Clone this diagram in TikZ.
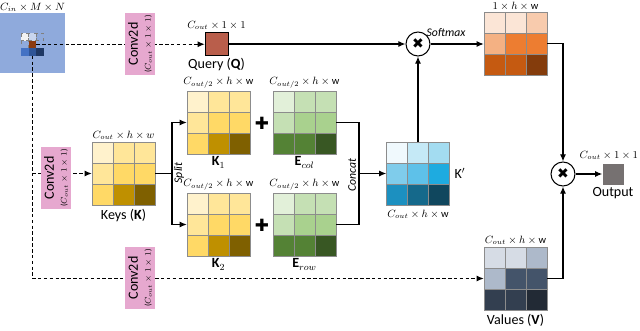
\documentclass[tikz,border=0pt]{standalone}
\usepackage{fontspec}
\setmainfont{Carlito}
\newfontfamily\dejavu{DejaVu Sans}
\usetikzlibrary{arrows.meta,positioning,calc}

\definecolor{convpink}{HTML}{E6A8CF}
\definecolor{inblue}{HTML}{8FAADC}
\definecolor{qbrown}{HTML}{B95E4B}
\definecolor{outgray}{HTML}{767171}
\definecolor{pixbrown}{HTML}{8B3A0F}
\definecolor{patchA}{HTML}{F2F2F2}
\definecolor{patchB}{HTML}{C9D6EE}
\definecolor{patchC}{HTML}{4472C4}
\definecolor{patchD}{HTML}{2F5597}
\definecolor{patchE}{HTML}{1F3864}

\tikzset{
  link/.style={line width=0.9pt, -{Latex[length=6pt,width=5pt]}},
  plain/.style={line width=0.9pt},
  dlink/.style={line width=0.9pt, dash pattern=on 3pt off 2pt, -{Latex[length=6pt,width=5pt]}},
  convbox/.style={fill=convpink, rotate=90, minimum width=1.86cm, minimum height=0.88cm,
    inner sep=0pt, align=center, font=\large},
  mulnode/.style={circle, draw, line width=0.9pt, fill=white, minimum size=0.72cm,
    inner sep=0pt, font=\dejavu\large},
  mapbox/.style={minimum size=1.89cm, inner sep=0pt},
  dim/.style={font=\small, inner sep=1pt},
  mapcap/.style={font=\large, inner sep=1pt},
  patchcell/.style={draw=black!50, dashed, line width=0.3pt},
}

% feature map: name, left, top, nine cell colours
\newcommand{\featmap}[4]{%
  \foreach \c [count=\i from 0] in {#4} {%
    \pgfmathtruncatemacro{\fr}{\i/3}%
    \pgfmathtruncatemacro{\fc}{\i-3*\fr}%
    \definecolor{cellc}{HTML}{\c}%
    \filldraw[fill=cellc, draw=black!45, line width=0.3pt]
      ({#2+21*\fc},{#3+21*\fr}) rectangle ++(21,21);
  }
  \node[mapbox] (#1) at ({#2+31.5},{#3+31.5}) {};
}

\begin{document}
\begin{tikzpicture}[x=0.03cm, y=-0.03cm]
    \useasboundingbox (0,0) rectangle (640,330);

    % Input
    \node[fill=inblue, minimum width=1.95cm, minimum height=1.8cm, inner sep=0pt] (input) at (32.5,43) {};
    \node[dim, above=0pt of input] (inlbl) {$C_{in}\times M\times N$};
    \filldraw[patchcell, fill=patchA] (21,33) rectangle ++(7.5,7.5);
    \filldraw[patchcell, fill=patchB] (28.5,33) rectangle ++(7.5,7.5);
    \draw[patchcell] (36,33) rectangle ++(7.5,7.5);
    \draw[patchcell] (21,40.5) rectangle ++(7.5,7.5);
    \fill[pixbrown] (28.5,40.5) rectangle ++(7.5,7.5);
    \fill[patchC] (21,48) rectangle ++(7.5,7.5);
    \fill[patchD] (28.5,48) rectangle ++(7.5,7.5);
    \fill[patchE] (36,48) rectangle ++(7.5,7.5);
    \node[minimum size=0.675cm, inner sep=0pt] (patch) at (32.25,44.25) {};
    \node[minimum size=0.225cm, inner sep=0pt] (pix) at (32.25,44.25) {};

    % Query
    \node[fill=qbrown, draw, minimum size=0.69cm, inner sep=0pt] (query) at (216.5,44) {};
    \node[dim, above=1pt of query] (qdim) {$C_{out}\times 1\times 1$};
    \node[mapcap, below=1pt of query] (qcap) {Query ($\mathbf{Q}$)};

    % Attention
    \node[mulnode] (mul1) at (418,44) {✖};
    \node[font=\itshape, inner sep=1pt] (soft) at (446,33) {Softmax};
    \featmap{att}{484}{12}{FBE5D6,FBE5D6,F8CBAD,F4B183,ED7D31,ED7D31,C55A11,C55A11,843C0C}
    \node[dim, inner sep=0pt, above=0.5pt of att] (attdim) {$1\times h\times\mathrm{w}$};

    % Keys
    \featmap{keys}{92}{142}{FFF2CC,FFE699,FFE699,FFE699,FFD966,FFD966,FFD966,BF9000,7F6000}
    \node[dim, above=1pt of keys] (keysdim) {$C_{out}\times h\times w$};
    \node[mapcap, below=2pt of keys] (keyscap) {Keys ($\mathbf{K}$)};

    % Split halves
    \featmap{k1}{187}{91}{FFF2CC,FFE699,FFE699,FFE699,FFD966,FFD966,FFD966,BF9000,7F6000}
    \featmap{ecol}{273}{91}{E2F0D9,C5E0B4,C5E0B4,C5E0B4,A9D18E,A9D18E,548235,548235,385723}
    \featmap{k2}{187}{193}{FFF2CC,FFE699,FFE699,FFE699,FFD966,FFD966,FFD966,BF9000,7F6000}
    \featmap{erow}{273}{193}{E2F0D9,C5E0B4,C5E0B4,C5E0B4,A9D18E,A9D18E,548235,548235,385723}
    \node[dim, above=1pt of k1] (k1dim) {$C_{out/2}\times h\times\mathrm{w}$};
    \node[dim, above=1pt of ecol] (ecoldim) {$C_{out/2}\times h\times\mathrm{w}$};
    \node[dim, above=1pt of k2] (k2dim) {$C_{out/2}\times h\times\mathrm{w}$};
    \node[dim, above=1pt of erow] (erowdim) {$C_{out/2}\times h\times\mathrm{w}$};
    \node[mapcap, below=1pt of k1] (k1cap) {$\mathbf{K}_1$};
    \node[mapcap, below=1pt of ecol] (ecolcap) {$\mathbf{E}_{col}$};
    \node[mapcap, below=1pt of k2] (k2cap) {$\mathbf{K}_2$};
    \node[mapcap, below=1pt of erow] (erowcap) {$\mathbf{E}_{row}$};
    \node[font=\dejavu\Large, inner sep=0pt] (plus1) at (262,123) {✚};
    \node[font=\dejavu\Large, inner sep=0pt] (plus2) at (262,225) {✚};

    % K'
    \featmap{kp}{386.5}{142}{F0F9FD,C5E9F6,A3DCF1,7FCCEB,5EC1E9,1EABE0,1C90C0,15698B,10475E}
    \node[mapcap, right=3pt of kp] (kpcap) {$\mathrm{K}'$};
    \node[dim, below=3pt of kp] (kpdim) {$C_{out}\times h\times\mathrm{w}$};

    % Values
    \featmap{values}{484}{247}{D6DCE5,D6DCE5,ADB9CA,ADB9CA,44546A,44546A,333F50,333F50,222A35}
    \node[dim, above=1pt of values] (valdim) {$C_{out}\times h\times\mathrm{w}$};
    \node[mapcap, below=2pt of values] (valcap) {Values ($\mathbf{V}$)};

    % Output
    \node[mulnode] (mul2) at (563,174) {✖};
    \node[fill=outgray, minimum size=0.63cm, inner sep=0pt] (out) at (613,174) {};
    \node[dim, anchor=east] (outdim) at (639.5,155) {$C_{out}\times 1\times 1$};
    \node[mapcap, below=1pt of out] (outcap) {Output};

    % Connectors
    \draw[dlink] (pix.east) -- (pix.east -| query.west);
    \draw[dlink] (patch.south) |- (values.west);
    \draw[dlink] (patch.south |- keys.west) -- (keys.west);
    \draw[link] (query) -- (mul1);
    \draw[link] (mul1.east) -- (mul1.east -| att.west);
    \draw[link] (att.east) -| (mul2.north);
    \draw[link] (values.east) -| (mul2.south);
    \draw[link] (mul2) -- (out);
    \draw[link] (kp.north) -- (mul1.south);

    \coordinate (split) at (172,173.5);
    \draw[plain] (keys.east) -- (split);
    \draw[link] (split) |- (k1.west);
    \draw[link] (split) |- (k2.west);
    \node[font=\itshape, rotate=90, inner sep=1pt] (splitlbl) at (179,173) {Split};

    \coordinate (cat) at (359,173.5);
    \draw[plain] (ecol.east) -| (cat);
    \draw[plain] (erow.east) -| (cat);
    \draw[link] (cat) -- (kp.west);
    \node[font=\itshape, rotate=90, inner sep=1pt] (catlbl) at (352,175) {Concat};

    % Conv2d blocks over the dashed lines
    \node[convbox] (convq) at (140,44) {Conv2d\\[-3pt]{\scriptsize($C_{out}\times 1\times 1$)}};
    \node[convbox] (convk) at (56,178) {Conv2d\\[-3pt]{\scriptsize($C_{out}\times 1\times 1$)}};
    \node[convbox] (convv) at (140,278) {Conv2d\\[-3pt]{\scriptsize($C_{out}\times 1\times 1$)}};
\end{tikzpicture}
\end{document}
